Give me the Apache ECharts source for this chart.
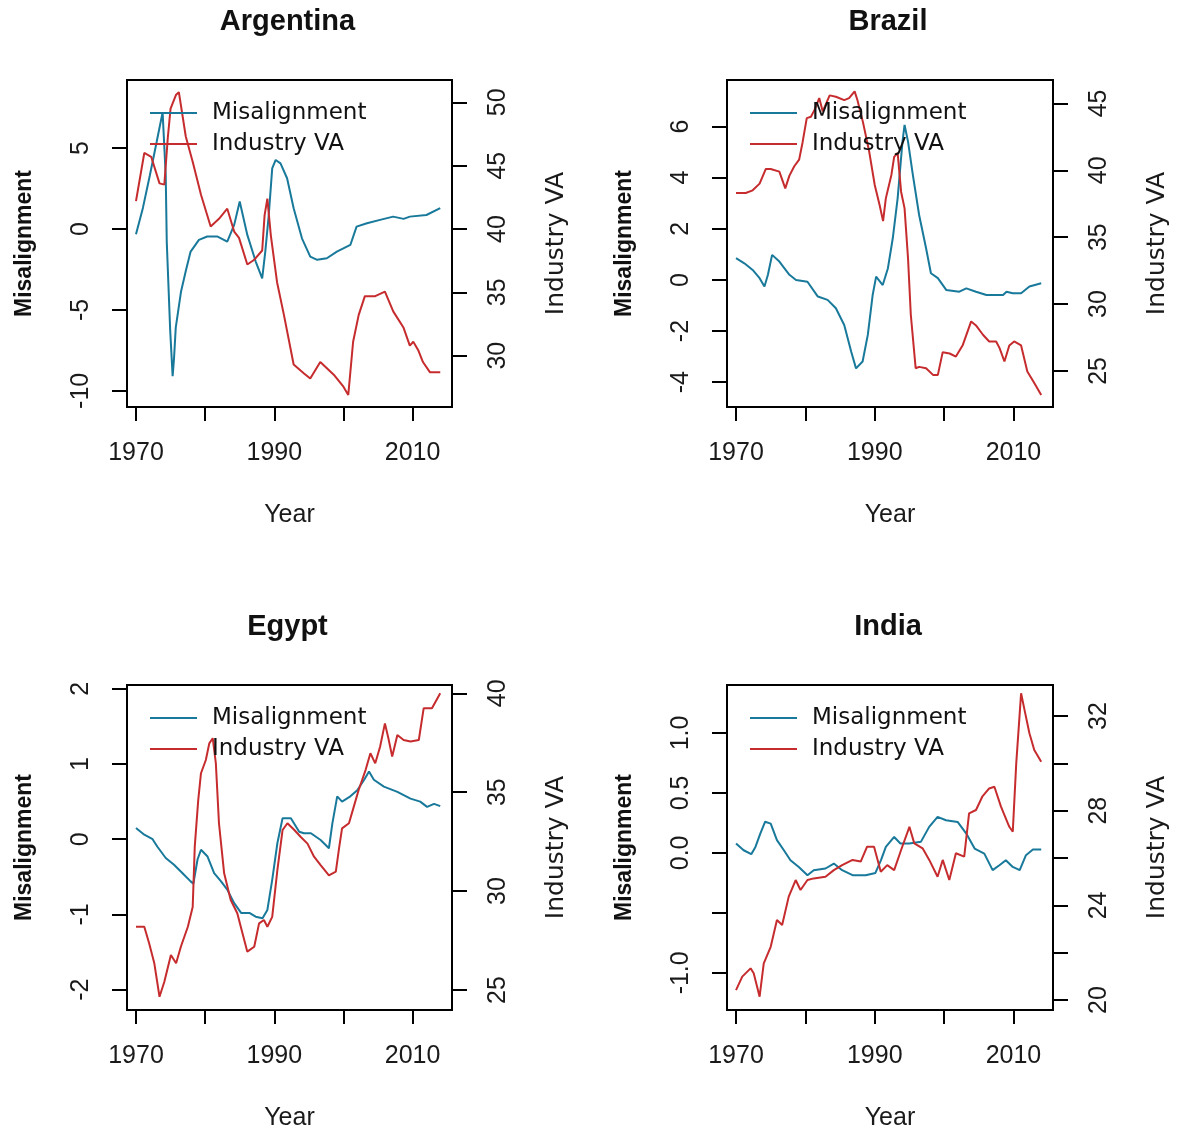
<!DOCTYPE html>
<html>
<head>
<meta charset="utf-8">
<script src="https://cdn.jsdelivr.net/npm/echarts@6/dist/echarts.min.js"></script>
<style>
  html, body { margin: 0; padding: 0; background: #fff; }
  #main { width: 1179px; height: 1130px; }
</style>
</head>
<body>
<div id="main"></div>
<script>
// values (year, value)
const argMisYear = [1970, 1971, 1972, 1973, 1973.85, 1974.1, 1974.3, 1974.45, 1974.95, 1975.3, 1975.5, 1975.75, 1976.5, 1977.2, 1977.9, 1979.1, 1980.3, 1981.8, 1983.2, 1984.2, 1985, 1986.1, 1987.3, 1988.25, 1988.7, 1989.2, 1989.7, 1990.2, 1990.9, 1991.85, 1992.8, 1994, 1995.2, 1996.2, 1997.6, 1999.05, 2001, 2001.9, 2003.4, 2005.3, 2007.2, 2008.7, 2009.6, 2012, 2014];
const argMisVal = [-0.33, 1.3, 3.3, 5.4, 7.2, 7.3, 3.3, -0.8, -6.3, -9.1, -8.0, -6.1, -3.9, -2.6, -1.4, -0.68, -0.47, -0.47, -0.78, 0.25, 1.69, -0.37, -2.0, -3.05, -1.4, 0.86, 3.74, 4.26, 4.05, 3.13, 1.28, -0.58, -1.71, -1.91, -1.81, -1.4, -0.99, 0.14, 0.35, 0.56, 0.76, 0.62, 0.76, 0.86, 1.28];
const argVaYear = [1970, 1971.2, 1972.2, 1973.4, 1974.1, 1974.6, 1975, 1975.8, 1976.2, 1977.2, 1978.2, 1979.4, 1980.8, 1982, 1983.2, 1984.2, 1984.9, 1986.1, 1987.05, 1988.25, 1988.6, 1989, 1989.5, 1990.4, 1991.4, 1992.8, 1994.3, 1995.2, 1996.65, 1998.6, 2000, 2000.7, 2001.4, 2002.2, 2003.1, 2004.6, 2006, 2007.2, 2008.7, 2009.6, 2010.1, 2010.8, 2011.5, 2012.5, 2014];
const argVaVal = [42.2, 46.0, 45.7, 43.6, 43.5, 47.2, 49.5, 50.6, 50.8, 47.3, 45.3, 42.7, 40.2, 40.8, 41.6, 39.8, 39.3, 37.2, 37.55, 38.3, 41.1, 42.4, 39.5, 35.8, 33.2, 29.3, 28.6, 28.2, 29.5, 28.5, 27.55, 26.9, 31.1, 33.2, 34.7, 34.7, 35.05, 33.5, 32.2, 30.8, 31.1, 30.45, 29.5, 28.7, 28.7];

const braMisYear = [1970, 1971.2, 1972.4, 1973.4, 1974.1, 1974.6, 1975.2, 1976.25, 1977.7, 1978.65, 1980.3, 1981.8, 1983.2, 1984.4, 1985.6, 1986.6, 1987.3, 1988.25, 1989, 1989.7, 1990.2, 1991.15, 1991.9, 1992.6, 1993.3, 1994, 1994.3, 1994.8, 1995.5, 1996.4, 1997.4, 1998.1, 1999.1, 2000.3, 2002.2, 2003.2, 2004.6, 2006.1, 2008.5, 2009, 2009.9, 2011.1, 2012.3, 2014];
const braMisVal = [0.85, 0.65, 0.39, 0.07, -0.26, 0.2, 0.98, 0.72, 0.2, 0.0, -0.07, -0.65, -0.78, -1.11, -1.76, -2.8, -3.46, -3.19, -2.15, -0.59, 0.13, -0.2, 0.46, 1.63, 3.19, 5.41, 6.06, 5.41, 4.1, 2.54, 1.24, 0.26, 0.07, -0.39, -0.46, -0.33, -0.46, -0.59, -0.59, -0.46, -0.52, -0.52, -0.26, -0.13];
const braVaYear = [1970, 1971.4, 1972.4, 1973.4, 1974.3, 1975, 1976.25, 1977.1, 1977.7, 1978.4, 1979.1, 1979.6, 1980.2, 1980.8, 1981.3, 1982, 1982.5, 1983.5, 1984.4, 1985.6, 1986.3, 1987.1, 1987.5, 1988.3, 1989.2, 1990, 1990.7, 1991.2, 1991.6, 1992.4, 1992.8, 1993.3, 1993.8, 1994.3, 1994.8, 1995.2, 1995.9, 1996.4, 1997.4, 1998.4, 1999.1, 1999.8, 2000.8, 2001.7, 2002.7, 2003.9, 2004.6, 2005.6, 2006.5, 2007.5, 2008, 2008.7, 2009.4, 2010.1, 2011.1, 2012, 2013, 2014];
const braVaVal = [38.3, 38.3, 38.5, 39.0, 40.1, 40.1, 39.9, 38.65, 39.6, 40.3, 40.8, 42.1, 43.9, 44.0, 44.5, 45.4, 44.4, 45.6, 45.5, 45.25, 45.4, 45.9, 45.25, 43.6, 41.4, 38.9, 37.4, 36.2, 37.9, 39.65, 41.0, 41.3, 38.4, 37.15, 33.4, 29.2, 25.2, 25.3, 25.2, 24.7, 24.7, 26.4, 26.3, 26.07, 26.94, 28.7, 28.4, 27.7, 27.2, 27.2, 26.7, 25.7, 26.9, 27.2, 26.9, 24.95, 24.1, 23.2];

const egyMisYear = [1970, 1971.2, 1972.4, 1973.1, 1974.3, 1975.5, 1976.7, 1977.9, 1978.3, 1978.9, 1979.4, 1980.35, 1981.3, 1982.3, 1983.2, 1984.2, 1985.2, 1986.4, 1987.3, 1988.3, 1989, 1989.7, 1990.45, 1991.2, 1992.4, 1993.6, 1994.3, 1995.3, 1996.7, 1997.9, 1998.4, 1999.1, 1999.8, 2001, 2002, 2003, 2003.7, 2004.4, 2005.85, 2007.8, 2009.7, 2011.1, 2012.1, 2013.1, 2014];
const egyMisVal = [0.15, 0.06, 0.0, -0.1, -0.25, -0.34, -0.45, -0.56, -0.59, -0.27, -0.14, -0.23, -0.45, -0.56, -0.67, -0.85, -0.98, -0.98, -1.03, -1.05, -0.94, -0.54, -0.05, 0.28, 0.28, 0.1, 0.08, 0.08, -0.01, -0.12, 0.21, 0.57, 0.5, 0.57, 0.65, 0.79, 0.9, 0.79, 0.7, 0.63, 0.54, 0.5, 0.43, 0.47, 0.44];
const egyVaYear = [1970, 1971.2, 1971.9, 1972.65, 1973.4, 1974.1, 1975.05, 1975.8, 1976.5, 1977.5, 1978.2, 1978.5, 1979, 1979.4, 1980.1, 1980.6, 1981.1, 1981.55, 1982, 1982.75, 1983.7, 1984.65, 1985.4, 1986.1, 1987.1, 1987.8, 1988.5, 1989, 1989.7, 1990.45, 1991.2, 1991.9, 1992.9, 1993.8, 1994.8, 1995.75, 1996.7, 1997.9, 1998.9, 1999.4, 1999.8, 2000.8, 2001.5, 2002.2, 2003.2, 2003.9, 2004.6, 2005.3, 2006, 2006.5, 2007.05, 2007.8, 2008.7, 2009.7, 2010.9, 2011.6, 2012.8, 2014];
const egyVaVal = [28.2, 28.2, 27.36, 26.35, 24.66, 25.42, 26.77, 26.35, 27.2, 28.2, 29.2, 32.25, 34.6, 35.96, 36.63, 37.47, 37.73, 36.46, 33.43, 30.9, 29.55, 28.88, 27.87, 26.94, 27.19, 28.37, 28.54, 28.2, 28.7, 31.07, 33.09, 33.43, 33.09, 32.75, 32.4, 31.74, 31.32, 30.8, 30.98, 32.25, 33.17, 33.43, 34.27, 35.11, 36.12, 36.97, 36.46, 37.3, 38.48, 37.73, 36.8, 37.89, 37.64, 37.56, 37.64, 39.24, 39.24, 40.0];

const indMisYear = [1970, 1971.1, 1972.2, 1972.8, 1973.5, 1974.2, 1975, 1975.9, 1976.9, 1977.85, 1979.05, 1980.3, 1981.2, 1982.9, 1984.1, 1985.3, 1986.8, 1988.7, 1990.1, 1990.9, 1991.6, 1992.8, 1993.7, 1995, 1996.65, 1997.85, 1999.06, 2000.27, 2001.95, 2003.2, 2004.4, 2005.8, 2007, 2007.97, 2008.9, 2009.9, 2010.9, 2011.8, 2012.8, 2014];
const indMisVal = [0.078, 0.022, -0.011, 0.05, 0.16, 0.26, 0.244, 0.106, 0.022, -0.061, -0.117, -0.186, -0.144, -0.13, -0.089, -0.144, -0.186, -0.186, -0.167, -0.061, 0.05, 0.133, 0.078, 0.078, 0.092, 0.217, 0.3, 0.272, 0.258, 0.161, 0.036, -0.006, -0.144, -0.103, -0.061, -0.117, -0.144, -0.019, 0.028, 0.028];
const indVaYear = [1970, 1970.9, 1972.1, 1972.55, 1973.04, 1973.4, 1974, 1975, 1975.9, 1976.65, 1977.6, 1978.6, 1979.3, 1980.3, 1981.2, 1982.9, 1984.1, 1985.3, 1986.8, 1987.98, 1988.9, 1989.9, 1990.87, 1991.8, 1992.8, 1993.8, 1995, 1995.7, 1996.9, 1997.86, 1999.06, 1999.8, 2000.75, 2001.7, 2002.9, 2003.6, 2004.6, 2005.5, 2006.5, 2007.25, 2008.2, 2009.4, 2009.9, 2010.4, 2010.9, 2011.1, 2011.6, 2012.3, 2013, 2014];
const indVaVal = [20.42, 20.99, 21.34, 21.13, 20.56, 20.14, 21.55, 22.25, 23.38, 23.17, 24.37, 25.07, 24.65, 25.07, 25.14, 25.21, 25.49, 25.7, 25.92, 25.85, 26.48, 26.48, 25.42, 25.7, 25.49, 26.34, 27.32, 26.62, 26.41, 25.92, 25.21, 25.92, 25.07, 26.2, 26.06, 27.89, 28.03, 28.59, 28.94, 29.01, 28.17, 27.32, 27.11, 30.0, 32.11, 32.96, 32.25, 31.27, 30.56, 30.07];

// axis ticks
const xTicks = [1970, 1980, 1990, 2000, 2010];
const xLabels = [1970, 1990, 2010];
const argLeftTicks = [-10, -5, 0, 5];
const argRightTicks = [30, 35, 40, 45, 50];
const braLeftTicks = [-4, -2, 0, 2, 4, 6];
const braRightTicks = [25, 30, 35, 40, 45];
const egyLeftTicks = [-2, -1, 0, 1, 2];
const egyRightTicks = [25, 30, 35, 40];
const indLeftTicks = [-1, -0.5, 0, 0.5, 1];
const indLeftLabels = [-1, 0, 0.5, 1];
const indRightTicks = [20, 22, 24, 26, 28, 30, 32];
const indRightLabels = [20, 24, 28, 32];

const teal = '#18799b';
const red = '#c62c2e';

function zip(xs, ys) { return xs.map((x, i) => [x, ys[i]]); }

const panels = [
  { name: 'Argentina', left: 127, top: 80, width: 325, height: 327,
    mis: zip(argMisYear, argMisVal), va: zip(argVaYear, argVaVal),
    lmin: -11.0, lmax: 9.2, rmin: 25.95, rmax: 51.76,
    lt: argLeftTicks, ll: argLeftTicks, rt: argRightTicks, rl: argRightTicks, dec: 0 },
  { name: 'Brazil', left: 727, top: 80, width: 326, height: 327,
    mis: zip(braMisYear, braMisVal), va: zip(braVaYear, braVaVal),
    lmin: -4.97, lmax: 7.82, rmin: 22.3, rmax: 46.75,
    lt: braLeftTicks, ll: braLeftTicks, rt: braRightTicks, rl: braRightTicks, dec: 0 },
  { name: 'Egypt', left: 127, top: 685, width: 325, height: 325,
    mis: zip(egyMisYear, egyMisVal), va: zip(egyVaYear, egyVaVal),
    lmin: -2.27, lmax: 2.05, rmin: 23.99, rmax: 40.42,
    lt: egyLeftTicks, ll: egyLeftTicks, rt: egyRightTicks, rl: egyRightTicks, dec: 0 },
  { name: 'India', left: 727, top: 685, width: 326, height: 325,
    mis: zip(indMisYear, indMisVal), va: zip(indVaYear, indVaVal),
    lmin: -1.31, lmax: 1.40, rmin: 19.58, rmax: 33.31,
    lt: indLeftTicks, ll: indLeftLabels, rt: indRightTicks, rl: indRightLabels, dec: 1 }
];

const tickFont = { fontFamily: 'Liberation Sans', fontSize: 25, color: '#1a1a1a' };

let grids = [], xAxes = [], yAxes = [], series = [], legends = [], graphics = [];

panels.forEach(function (p, i) {
  grids.push({ left: p.left, top: p.top, width: p.width, height: p.height,
    outerBoundsMode: 'none', containLabel: false,
    show: true, borderColor: '#000', borderWidth: 2, backgroundColor: 'transparent' });

  xAxes.push({
    type: 'value', gridIndex: i, min: 1968.7, max: 2015.7,
    name: 'Year', nameLocation: 'middle', nameGap: 96,
    nameTextStyle: { fontFamily: 'Liberation Sans', fontSize: 25, color: '#1a1a1a' },
    axisLine: { show: false, onZero: false }, splitLine: { show: false },
    axisTick: { show: true, length: 14, lineStyle: { color: '#000', width: 2 }, customValues: xTicks },
    axisLabel: Object.assign({ margin: 34, customValues: xLabels, formatter: v => String(v) }, tickFont)
  });

  yAxes.push({
    type: 'value', gridIndex: i, position: 'left', min: p.lmin, max: p.lmax,
    name: 'Misalignment', nameLocation: 'middle', nameGap: 91, nameRotate: 90,
    nameTextStyle: { fontFamily: 'Liberation Sans', fontSize: 23, fontWeight: 'bold', color: '#111' },
    axisLine: { show: false, onZero: false }, splitLine: { show: false },
    axisTick: { show: true, length: 15, lineStyle: { color: '#000', width: 2 }, customValues: p.lt },
    axisLabel: Object.assign({ margin: 33, rotate: 90, customValues: p.ll,
      formatter: v => p.dec ? Number(v).toFixed(1) : String(v) }, tickFont)
  });
  yAxes.push({
    type: 'value', gridIndex: i, position: 'right', min: p.rmin, max: p.rmax,
    name: 'Industry VA', nameLocation: 'middle', nameGap: 92, nameRotate: 90,
    nameTextStyle: { fontFamily: 'DejaVu Sans', fontSize: 25, color: '#1a1a1a' },
    axisLine: { show: false, onZero: false }, splitLine: { show: false },
    axisTick: { show: true, length: 15, lineStyle: { color: '#000', width: 2 }, customValues: p.rt },
    axisLabel: Object.assign({ margin: 34, rotate: 90, customValues: p.rl, formatter: v => String(v) }, tickFont)
  });

  series.push({ name: 'Misalignment', type: 'line', xAxisIndex: i, yAxisIndex: 2 * i,
    data: p.mis, symbol: 'none', lineStyle: { color: teal, width: 2 }, itemStyle: { color: teal } });
  series.push({ name: 'Industry VA', type: 'line', xAxisIndex: i, yAxisIndex: 2 * i + 1,
    data: p.va, symbol: 'none', lineStyle: { color: red, width: 2 }, itemStyle: { color: red } });

  legends.push({
    data: [{ name: 'Misalignment', icon: 'rect', itemStyle: { color: teal } },
           { name: 'Industry VA', icon: 'rect', itemStyle: { color: red } }],
    orient: 'vertical',
    left: p.left + 18, top: p.top + 16, itemWidth: 47, itemHeight: 2, itemGap: 7,
    selectedMode: false,
    textStyle: { fontFamily: 'DejaVu Sans', fontSize: 23, color: '#111', lineHeight: 24, padding: [0, 0, 0, 10] }
  });

  graphics.push({ type: 'text', x: p.left + p.width / 2 - 2, y: p.top - 58,
    style: { text: p.name, font: 'bold 29px "Liberation Sans"', fill: '#111', textAlign: 'center', textVerticalAlign: 'middle' } });
});

const chart = echarts.init(document.getElementById('main'));
chart.setOption({
  animation: false,
  backgroundColor: '#fff',
  grid: grids, xAxis: xAxes, yAxis: yAxes, series: series, legend: legends, graphic: graphics
});
</script>
</body>
</html>
